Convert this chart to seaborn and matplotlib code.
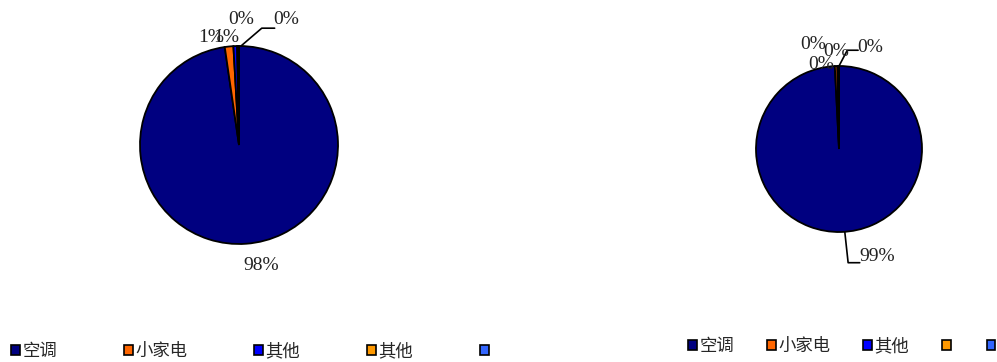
import numpy as np
import matplotlib
matplotlib.use("Agg")
import matplotlib.pyplot as plt
import seaborn as sns
from matplotlib.patches import Patch

# data
left_labels = ["空调", "小家电", "其他", "其他", ""]
left_values = [97.7, 1.4, 0.6, 0.2, 0.1]
right_labels = ["空调", "小家电", "其他", "", ""]
right_values = [99.2, 0.5, 0.1, 0.1, 0.1]

colors = sns.color_palette(["#000080", "#FF6600", "#0000FF", "#FF9900", "#3366FF"])

sns.set_theme(style="white")
plt.rcParams['font.family'] = ['Liberation Serif', 'Noto Sans CJK SC']

fig = plt.figure(figsize=(9.97, 3.62), dpi=100)
W, H = 997, 362


def pie_axes(cx, cy, r):
    return fig.add_axes([(cx - r) / W, (H - cy - r) / H, 2 * r / W, 2 * r / H])


# label placement per slice: (text pos in radius units, leader path or None)
left_place = [((0.22, -1.22), None),
              ((-0.28, 1.09), None),
              ((-0.13, 1.09), None),
              ((0.02, 1.27), None),
              ((0.48, 1.27), [(0.02, 1.0), (0.23, 1.18), (0.36, 1.18)])]
right_place = [((0.46, -1.30), [(0.07, -1.0), (0.11, -1.37), (0.25, -1.37)]),
               ((-0.03, 1.18), None),
               ((-0.31, 1.26), None),
               ((-0.21, 1.02), None),
               ((0.38, 1.22), [(0.0, 1.0), (0.10, 1.19), (0.23, 1.19)])]


def draw_pie(ax, values, place):
    ax.pie(values, colors=colors, startangle=90, counterclock=False,
           wedgeprops=dict(edgecolor="black", linewidth=1.3))
    ax.set_xlim(-1, 1)
    ax.set_ylim(-1, 1)
    ax.set_aspect("equal")
    ax.axis("off")
    total = sum(values)
    for v, (pos, path) in zip(values, place):
        ax.text(pos[0], pos[1], "%.0f%%" % (100 * v / total), ha="center", va="center",
                fontsize=14, color="#222222", clip_on=False)
        if path:
            xs, ys = zip(*path)
            ax.plot(xs, ys, color="black", lw=1.2, clip_on=False)


axL = pie_axes(239, 145, 99)
draw_pie(axL, left_values, left_place)
axR = pie_axes(839, 149, 83)
draw_pie(axR, right_values, right_place)


def legend(labels, x, y, spacing):
    handles = [Patch(facecolor=c, edgecolor="black", linewidth=1.2) for c in colors]
    fig.legend(handles, labels, loc="center left", bbox_to_anchor=(x / W, 1 - y / H),
               ncol=5, frameon=False, handlelength=0.5, handleheight=0.5,
               handletextpad=0.15, columnspacing=spacing, borderaxespad=0, borderpad=0,
               prop={"family": ["Noto Sans CJK SC"], "size": 12.5})


legend(left_labels, 11, 351, 3.85)
legend(right_labels, 688, 346, 1.9)

fig.savefig("out.png", dpi=100)
